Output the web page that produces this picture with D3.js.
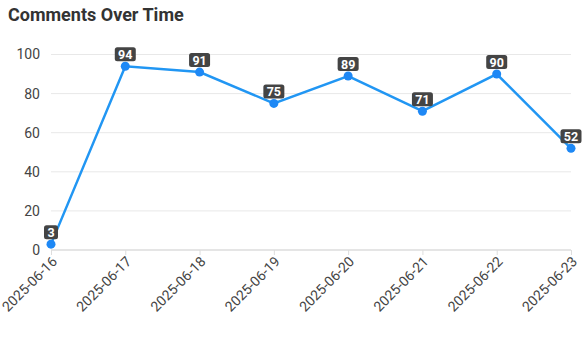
<!DOCTYPE html>
<html><head><meta charset="utf-8">
<script src="https://cdn.jsdelivr.net/npm/d3@7"></script>
<style>body{margin:0;background:#fff;font-family:Roboto,"Noto Sans",sans-serif;}</style>
</head><body><svg id="c" width="582" height="350"></svg>
<script>
const dates = ["2025-06-16","2025-06-17","2025-06-18","2025-06-19","2025-06-20","2025-06-21","2025-06-22","2025-06-23"];
const comments = [3, 94, 91, 75, 89, 71, 90, 52];
const yTicks = [0, 20, 40, 60, 80, 100];

const svg = d3.select("#c");
const m = {left: 51, right: 11, top: 54.5, bottom: 100};
const W = 582, H = 350;
const x = d3.scalePoint().domain(dates).range([m.left, W - m.right]);
const y = d3.scaleLinear().domain([0, 100]).range([250, m.top]);

svg.append("text").attr("x", 8).attr("y", 21).text("Comments Over Time")
  .attr("font-size", 18).attr("font-weight", "bold").attr("fill", "#333");

// grid
svg.append("g").selectAll("line").data(yTicks.filter(d => d > 0)).join("line")
  .attr("x1", m.left).attr("x2", W - m.right)
  .attr("y1", d => y(d)).attr("y2", d => y(d))
  .attr("stroke", "#e8e8e8").attr("stroke-width", 1);

// y axis
const ya = svg.append("g").attr("transform", `translate(${m.left},0)`)
  .call(d3.axisLeft(y).tickValues(yTicks).tickSize(0).tickPadding(11));
ya.select(".domain").remove();
ya.selectAll("text").attr("font-size", 14).attr("fill", "#444").attr("font-family", "Roboto, sans-serif");

// x axis
const xa = svg.append("g").attr("transform", `translate(0,250)`)
  .call(d3.axisBottom(x).tickSize(5).tickPadding(4));
xa.select(".domain").attr("stroke", "#ddd").attr("stroke-width", 1.5).attr("d", `M${m.left},0H${W - m.right}`);
xa.selectAll(".tick line").attr("stroke", "#ddd");
xa.selectAll("text").attr("font-size", 14).attr("fill", "#444").attr("font-family", "Roboto, sans-serif")
  .attr("text-anchor", "end").attr("x", 0).attr("y", 0).attr("dx", 0).attr("dy", "0.35em")
  .attr("transform", "translate(3,9) rotate(-45)");

// line
svg.append("path").datum(comments)
  .attr("fill", "none").attr("stroke", "#2196f3").attr("stroke-width", 2.5)
  .attr("d", d3.line().x((d, i) => x(dates[i])).y(d => y(d)));

svg.append("g").selectAll("circle").data(comments).join("circle")
  .attr("cx", (d, i) => x(dates[i])).attr("cy", d => y(d)).attr("r", 4.5)
  .attr("fill", "#1e88f5");

// labels
const lg = svg.append("g").selectAll("g").data(comments).join("g")
  .attr("transform", (d, i) => `translate(${x(dates[i])},${y(d) - 12})`);
lg.append("rect")
  .attr("x", d => String(d).length > 1 ? -10.5 : -7)
  .attr("width", d => String(d).length > 1 ? 21 : 14)
  .attr("y", -7).attr("height", 14).attr("rx", 2.5)
  .attr("fill", "#444");
lg.append("text").text(d => d).attr("text-anchor", "middle").attr("dy", "0.36em")
  .attr("fill", "#fff").attr("font-size", 12.5).attr("font-weight", "bold");
</script></body></html>
